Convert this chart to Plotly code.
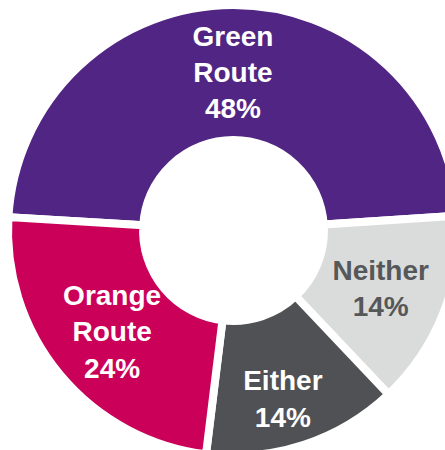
import plotly.graph_objects as go

labels = ["Green<br>Route", "Neither", "Either", "Orange<br>Route"]
values = [48, 14, 14, 24]
colors = ["#512583", "#DADCDB", "#505154", "#CB0059"]
text_colors = ["#FFFFFF", "#555759", "#FFFFFF", "#FFFFFF"]
# the Either label sits a little lower in its slice
templates = [
    "%{label}<br>%{percent:.0%}",
    "%{label}<br>%{percent:.0%}",
    "\u00a0<br>%{label}<br>%{percent:.0%}",
    "%{label}<br>%{percent:.0%}",
]

W, H = 460, 460
fig = go.Figure(go.Pie(
    labels=labels,
    values=values,
    sort=False,
    direction="clockwise",
    rotation=-86.6,
    hole=0.401,
    marker=dict(colors=colors, line=dict(color="#FFFFFF", width=8)),
    texttemplate=templates,
    textposition="inside",
    insidetextorientation="horizontal",
    insidetextfont=dict(family="Liberation Sans", size=28, color=text_colors, weight="bold"),
    hoverinfo="none",
    domain=dict(x=[8 / W, 459 / W], y=[1 - 456 / H, 1 - 5 / H]),
    showlegend=False,
))
fig.update_layout(
    width=W, height=H,
    margin=dict(l=0, r=0, t=0, b=0),
    paper_bgcolor="#FFFFFF",
    plot_bgcolor="#FFFFFF",
    uniformtext=dict(minsize=28, mode="show"),
)
fig.write_html(
    "out.html",
    post_script="document.documentElement.style.overflow='hidden';document.body.style.overflow='hidden';document.body.style.margin='0';",
)
